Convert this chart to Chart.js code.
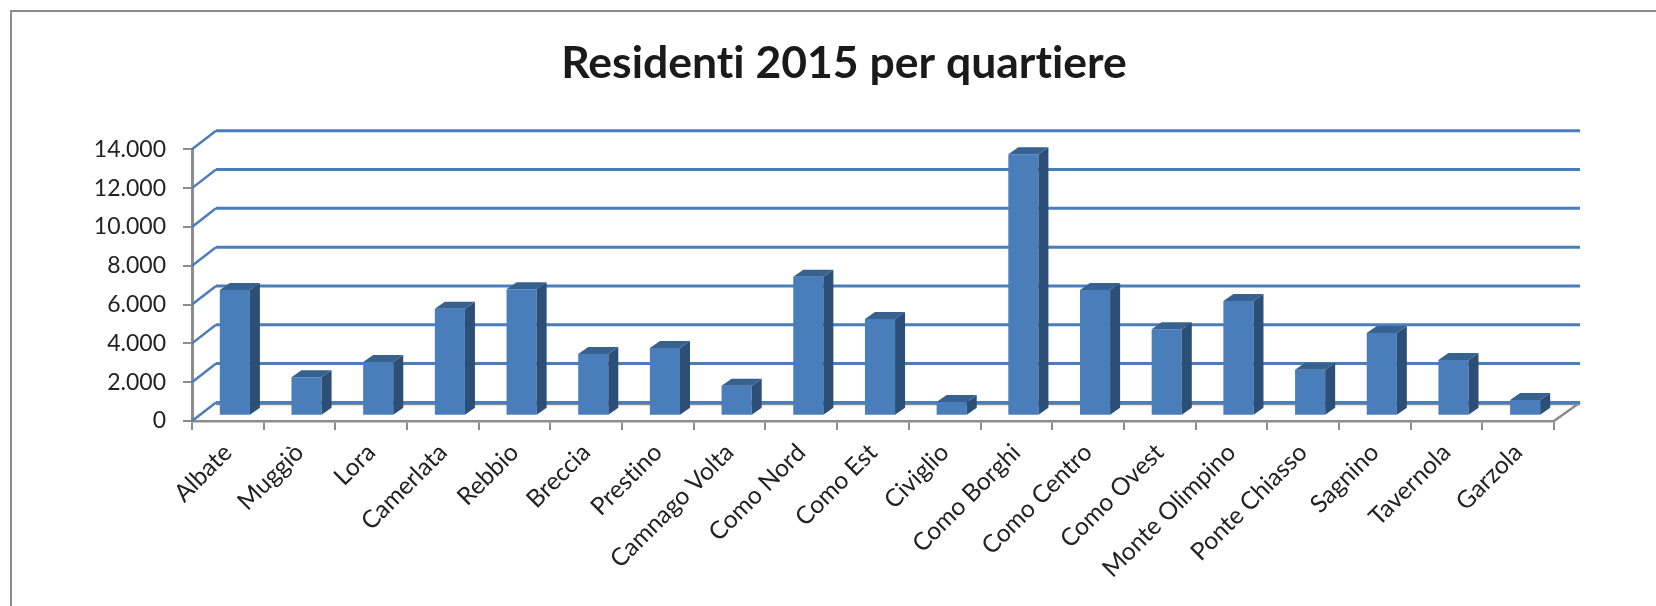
<!DOCTYPE html>
<html>
<head>
<meta charset="utf-8">
<title>Residenti 2015 per quartiere</title>
<script src="https://cdn.jsdelivr.net/npm/chart.js@4"></script>
<style>
    html, body { margin: 0; padding: 0; background: #fff; overflow: hidden; }
    canvas { display: block; }
</style>
</head>
<body>
<canvas id="residentiChart" width="1656" height="606"></canvas>
<script>
const chartTitle = 'Residenti 2015 per quartiere';
const quartieri = ['Albate', 'Muggiò', 'Lora', 'Camerlata', 'Rebbio', 'Breccia', 'Prestino', 'Camnago Volta', 'Como Nord', 'Como Est', 'Civiglio', 'Como Borghi', 'Como Centro', 'Como Ovest', 'Monte Olimpino', 'Ponte Chiasso', 'Sagnino', 'Tavernola', 'Garzola'];
const residenti = [6480, 1980, 2770, 5510, 6510, 3180, 3490, 1545, 7165, 4985, 705, 13470, 6480, 4450, 5910, 2370, 4260, 2870, 810];
const yTicks = [0, 2000, 4000, 6000, 8000, 10000, 12000, 14000];

const fontFamily = 'Lato, "Open Sans", sans-serif';
const blue = '#4a7ebb';
const grey = '#8c8c8c';

// Excel style depth: wall is shifted from the front plane by this much
const wallDx = 24;
const wallDy = 18.6;
// bars stand a bit inside the floor
const barShiftX = 7;
const barShiftY = -5.3;
const barSideDx = 10;
const barSideDy = 7;

function poly(ctx, pts, color) {
    ctx.beginPath();
    ctx.moveTo(pts[0][0], pts[0][1]);
    pts.slice(1).forEach(p => ctx.lineTo(p[0], p[1]));
    ctx.closePath();
    ctx.fillStyle = color;
    ctx.fill();
}

const excel3d = {
    id: 'excel3d',
    afterLayout(chart) {
        // title is not centred on the canvas in the original
        chart.titleBlock.left = 32;
        chart.titleBlock.right = 1656;
    },
    beforeDraw(chart) {
        const ctx = chart.ctx;
        // no "ti" ligature from Lato
        ctx.textRendering = 'optimizeSpeed';
        ctx.save();
        ctx.fillStyle = grey;
        ctx.fillRect(10, 10, 1646, 2);
        ctx.fillRect(10, 10, 2, 596);
        ctx.restore();
    },
    beforeDatasetsDraw(chart) {
        const ctx = chart.ctx;
        const { left, right } = chart.chartArea;
        const y0 = chart.scales.y.getPixelForValue(0);

        ctx.save();
        // floor
        ctx.strokeStyle = grey;
        ctx.lineWidth = 2.5;
        ctx.beginPath();
        ctx.moveTo(left + wallDx, y0 - wallDy + 1.5);
        ctx.lineTo(right + wallDx + 2, y0 - wallDy + 1.5);
        ctx.moveTo(right, y0);
        ctx.lineTo(right + wallDx + 2, y0 - wallDy);
        ctx.stroke();

        // grid on the back wall and side wall
        ctx.strokeStyle = blue;
        yTicks.forEach(v => {
            const y = chart.scales.y.getPixelForValue(v);
            ctx.lineWidth = 3;
            ctx.beginPath();
            ctx.moveTo(left + wallDx, y - wallDy);
            ctx.lineTo(right + wallDx + 2, y - wallDy);
            ctx.stroke();
            ctx.lineWidth = 2.5;
            ctx.beginPath();
            ctx.moveTo(left, y);
            ctx.lineTo(left + wallDx, y - wallDy);
            ctx.stroke();
        });
        ctx.restore();
    },
    beforeDatasetDraw(chart) {
        chart.ctx.save();
        chart.ctx.translate(barShiftX, barShiftY);
    },
    afterDatasetDraw(chart, args) {
        const ctx = chart.ctx;
        // side and top of each bar, taken from the bar elements
        args.meta.data.forEach(bar => {
            const x1 = bar.x - bar.width / 2;
            const x2 = bar.x + bar.width / 2;
            poly(ctx, [[x2, bar.y], [x2 + barSideDx, bar.y - barSideDy], [x2 + barSideDx, bar.base - barSideDy], [x2, bar.base]], '#2c4f78');
            poly(ctx, [[x1, bar.y], [x1 + barSideDx, bar.y - barSideDy], [x2 + barSideDx, bar.y - barSideDy], [x2, bar.y]], '#376290');
        });
        ctx.restore();
    }
};

new Chart(document.getElementById('residentiChart'), {
    type: 'bar',
    data: {
        labels: quartieri,
        datasets: [{
            data: residenti,
            backgroundColor: blue,
            borderWidth: 0,
            categoryPercentage: 1,
            barPercentage: 0.42
        }]
    },
    plugins: [excel3d],
    options: {
        responsive: false,
        animation: false,
        layout: { padding: { left: 0, right: 102, top: 0, bottom: 0 } },
        plugins: {
            legend: { display: false },
            tooltip: { enabled: false },
            title: {
                display: true,
                text: chartTitle,
                color: '#1a1a1a',
                font: { family: fontFamily, size: 44.5, weight: 'bold', lineHeight: 1.2 },
                padding: { top: 37.3, bottom: 58.6 }
            }
        },
        scales: {
            x: {
                afterFit(scale) { scale.height = 185; },
                border: { color: grey, width: 2.5 },
                grid: { drawOnChartArea: false, color: grey, lineWidth: 2, tickLength: 9 },
                ticks: {
                    autoSkip: false,
                    minRotation: 45,
                    maxRotation: 45,
                    padding: 8,
                    color: '#222',
                    font: { family: fontFamily, size: 24.5 }
                }
            },
            y: {
                min: 0,
                max: 14000,
                afterFit(scale) { scale.width = 192; },
                afterBuildTicks(scale) { scale.ticks = yTicks.map(v => ({ value: v })); },
                border: { color: grey, width: 3 },
                grid: { drawOnChartArea: false, color: grey, lineWidth: 2, tickLength: 9 },
                ticks: {
                    padding: 17,
                    color: '#222',
                    font: { family: fontFamily, size: 23 },
                    callback: v => String(v).replace(/\B(?=(\d{3})+$)/g, '.')
                }
            }
        }
    }
});
</script>
</body>
</html>
